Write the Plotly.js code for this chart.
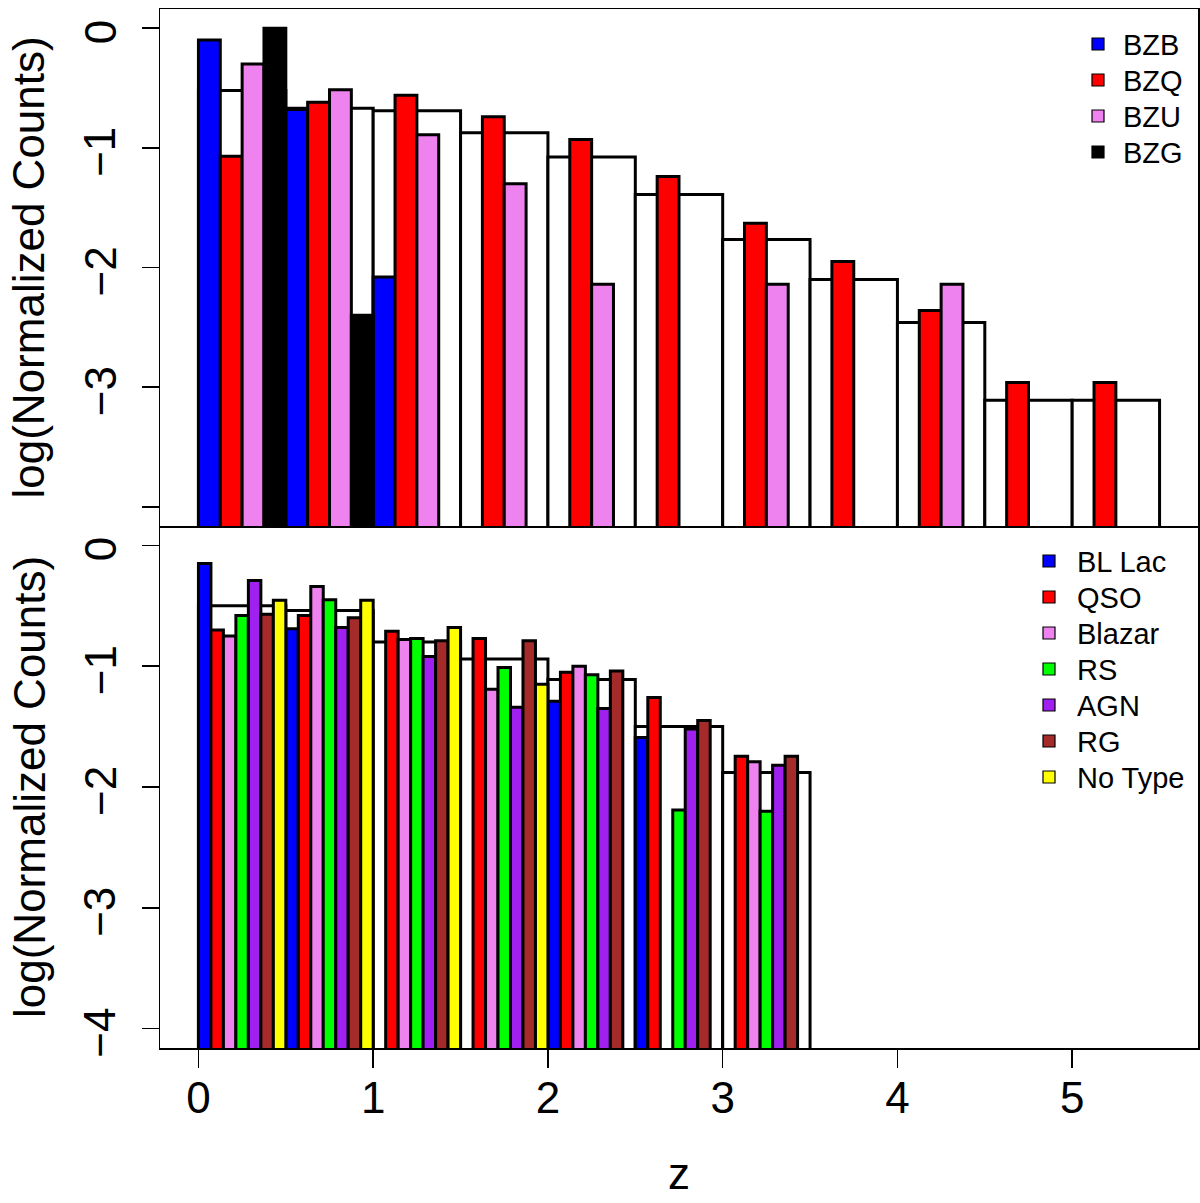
<!DOCTYPE html>
<html>
<head>
<meta charset="utf-8">
<script src="https://cdn.plot.ly/plotly-3.0.1.min.js"></script>
<style>
  body { margin: 0; background: #fff; }
  #plot { width: 1200px; height: 1203px; }
</style>
</head>
<body>
<div id="plot"></div>
<script>
// left edges of the redshift bins, all 0.5 wide
var binWidth = 0.5;
var binsTop = [0, 0.5, 1, 1.5, 2, 2.5, 3, 3.5, 4, 4.5, 5];
var binsBottom = [0, 0.5, 1, 1.5, 2, 2.5, 3];

// top panel, log(normalized counts)
var allTop = [-0.52, -0.67, -0.69, -0.875, -1.076, -1.39, -1.765, -2.10, -2.46, -3.11, -3.11];
var bzb = [-0.10, -0.68, -2.08, null, null, null, null, null, null, null, null];
var bzq = [-1.07, -0.62, -0.56, -0.74, -0.93, -1.24, -1.63, -1.95, -2.36, -2.96, -2.96];
var bzu = [-0.30, -0.515, -0.89, -1.30, -2.14, null, -2.14, null, -2.14, null, null];
var bzg = [0.0, -2.40, null, null, null, null, null, null, null, null, null];

// bottom panel
var allBottom = [-0.50, -0.54, -0.80, -0.94, -1.11, -1.50, -1.88];
var bllac  = [-0.15, -0.69, null, null, -1.29, -1.59, null];
var qso    = [-0.70, -0.58, -0.71, -0.77, -1.05, -1.26, -1.745];
var blazar = [-0.75, -0.34, -0.78, -1.19, -1.00, null, -1.79];
var rs     = [-0.58, -0.45, -0.77, -1.01, -1.07, -2.19, -2.20];
var agn    = [-0.29, -0.68, -0.92, -1.34, -1.35, -1.52, -1.82];
var rg     = [-0.57, -0.60, -0.79, -0.79, -1.04, -1.45, -1.745];
var notype = [-0.455, -0.455, -0.68, -1.15, null, null, null];

var yTicks = [0, -1, -2, -3, -4];
var yLabelsTop = ['0', '\u22121', '\u22122', '\u22123', ''];
var yLabelsBottom = ['0', '\u22121', '\u22122', '\u22123', '\u22124'];
var xTicks = [0, 1, 2, 3, 4, 5];
var yTitle = 'log(Normalized Counts)';

// bars stand on a floor below the visible range, like the R plot
var BASE = -5;
var LW = 3;
var FONT = 'Liberation Sans, Arial, Helvetica, sans-serif';

// plot area in pixels (for legends and rotated labels)
var W = 1200, H = 1203;
var M = { l: 160, r: 2, t: 9, b: 155 };
var plotW = W - M.l - M.r, plotH = H - M.t - M.b;
function px(x) { return (x - M.l) / plotW; }
function py(y) { return (H - M.b - y) / plotH; }

function centers(edges) {
  return edges.map(function (e) { return e + binWidth / 2; });
}
function lengths(vals) {
  return vals.map(function (v) { return v === null ? null : v - BASE; });
}

function outline(edges, vals, xa, ya) {
  return {
    type: 'bar', x: centers(edges), y: lengths(vals), base: BASE,
    width: binWidth, xaxis: xa, yaxis: ya, showlegend: false,
    marker: { color: 'white', line: { color: 'black', width: LW } },
    hoverinfo: 'skip'
  };
}

function subBars(edges, vals, name, color, k, n, xa, ya) {
  var w = binWidth / n;
  return {
    type: 'bar', name: name, x: centers(edges), y: lengths(vals), base: BASE,
    width: w, offset: -binWidth / 2 + k * w,
    xaxis: xa, yaxis: ya, showlegend: false,
    marker: { color: color, line: { color: 'black', width: LW } }
  };
}

var topSeries = [
  ['BZB', bzb, '#0000FF'],
  ['BZQ', bzq, '#FF0000'],
  ['BZU', bzu, '#EE82EE'],
  ['BZG', bzg, '#000000']
];
var bottomSeries = [
  ['BL Lac', bllac, '#0000FF'],
  ['QSO', qso, '#FF0000'],
  ['Blazar', blazar, '#EE82EE'],
  ['RS', rs, '#00FF00'],
  ['AGN', agn, '#A020F0'],
  ['RG', rg, '#A52A2A'],
  ['No Type', notype, '#FFFF00']
];

var data = [outline(binsTop, allTop, 'x', 'y')];
topSeries.forEach(function (s, k) {
  data.push(subBars(binsTop, s[1], s[0], s[2], k, topSeries.length, 'x', 'y'));
});
data.push(outline(binsBottom, allBottom, 'x2', 'y2'));
bottomSeries.forEach(function (s, k) {
  data.push(subBars(binsBottom, s[1], s[0], s[2], k, bottomSeries.length, 'x2', 'y2'));
});

var shapes = [], annotations = [];

// R style legend: small boxes and labels, rows 36px apart
function legendBox(series, boxX, textX, firstY) {
  series.forEach(function (s, k) {
    var cy = firstY + k * 36;
    shapes.push({
      type: 'rect', xref: 'paper', yref: 'paper',
      x0: px(boxX), x1: px(boxX + 12), y0: py(cy + 6), y1: py(cy - 6),
      fillcolor: s[2], line: { color: 'black', width: 1.2 }
    });
    annotations.push({
      xref: 'paper', yref: 'paper', x: px(textX), y: py(cy + 1),
      xanchor: 'left', yanchor: 'middle', showarrow: false,
      text: s[0], font: { size: 29, family: FONT, color: 'black' }
    });
  });
}
legendBox(topSeries, 1092, 1121, 44);
legendBox(bottomSeries, 1043, 1075, 561);

// y tick labels written parallel to the axis, as R does (las = 0)
function yLabels(labels, ya) {
  yTicks.forEach(function (v, i) {
    if (!labels[i]) return;
    annotations.push({
      xref: 'paper', yref: ya, x: px(100), y: v, yshift: -4,
      xanchor: 'center', yanchor: 'middle', textangle: -90, showarrow: false,
      text: labels[i], font: { size: 44, family: FONT, color: 'black' }
    });
  });
}
yLabels(yLabelsTop, 'y');
yLabels(yLabelsBottom, 'y2');

var split = 0.5024;
var xRange = [-0.22, 5.72];
var yRange = [-4.16, 0.16];

// y titles, centred on each panel
[[split, 1], [0, split]].forEach(function (d) {
  annotations.push({
    xref: 'paper', yref: 'paper', x: px(29), y: (d[0] + d[1]) / 2,
    xanchor: 'center', yanchor: 'middle', textangle: -90, showarrow: false,
    text: yTitle, font: { size: 44, family: FONT, color: 'black' }
  });
});

var frame = {
  showline: true, mirror: true, linecolor: 'black', linewidth: 1.5,
  showgrid: false, zeroline: false, automargin: false
};
var yTickStyle = {
  range: yRange, tickvals: yTicks, showticklabels: false,
  ticks: 'outside', ticklen: 17, tickwidth: 1.5, tickcolor: 'black'
};

var layout = {
  width: W, height: H,
  margin: M,
  paper_bgcolor: 'white', plot_bgcolor: 'white',
  font: { family: FONT, color: 'black', size: 44 },
  barmode: 'overlay',
  bargap: 0,
  showlegend: false,
  xaxis: Object.assign({}, frame, {
    domain: [0, 1], anchor: 'y', range: xRange,
    showticklabels: false, ticks: ''
  }),
  yaxis: Object.assign({}, frame, yTickStyle, { domain: [split, 1], anchor: 'x' }),
  xaxis2: Object.assign({}, frame, {
    domain: [0, 1], anchor: 'y2', range: xRange, mirror: false,
    tickvals: xTicks, ticktext: xTicks.map(String),
    ticks: 'outside', ticklen: 18, tickwidth: 1.5, tickcolor: 'black',
    ticklabelstandoff: -7,
    tickfont: { size: 44 },
    title: { text: 'z', font: { size: 44 }, standoff: 37 }
  }),
  yaxis2: Object.assign({}, frame, yTickStyle, { domain: [0, split], anchor: 'x2' }),
  shapes: shapes,
  annotations: annotations
};

Plotly.newPlot('plot', data, layout, { displayModeBar: false, staticPlot: true });
</script>
</body>
</html>
